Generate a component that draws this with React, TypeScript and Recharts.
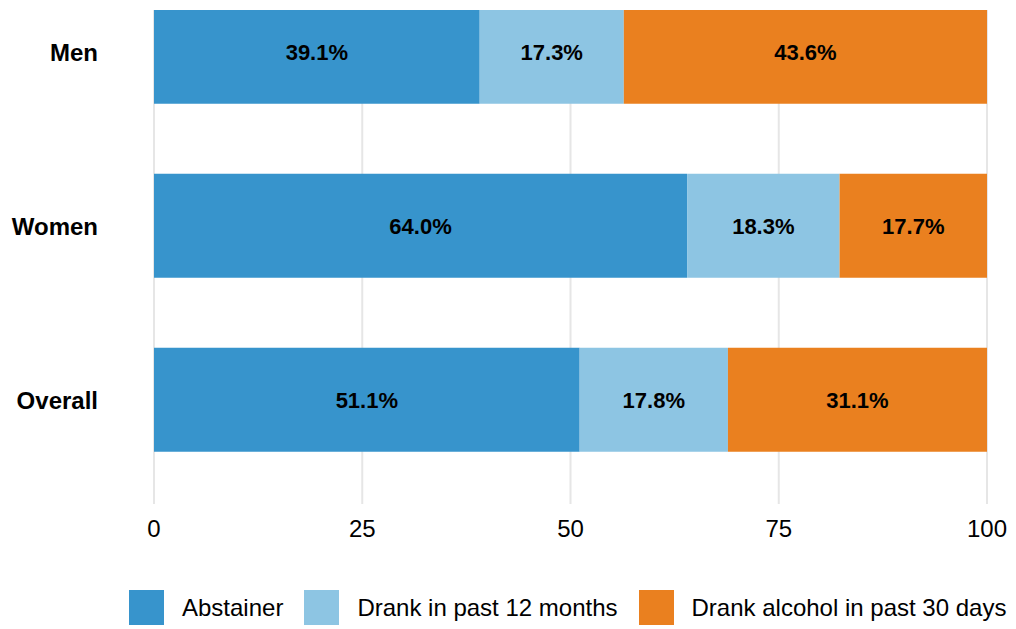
import React from "react";
import {
  BarChart,
  Bar,
  XAxis,
  YAxis,
  CartesianGrid,
  LabelList,
  Legend,
} from "recharts";

const categories = ["Men", "Women", "Overall"];
const abstainer = [39.1, 64.0, 51.1];
const past12Months = [17.3, 18.3, 17.8];
const past30Days = [43.6, 17.7, 31.1];
const xTicks = [0, 25, 50, 75, 100];

const seriesInfo = [
  { key: "abstainer", name: "Abstainer", color: "#3794cc" },
  { key: "past12", name: "Drank in past 12 months", color: "#8dc5e3" },
  { key: "past30", name: "Drank alcohol in past 30 days", color: "#ea801f" },
];

const data = categories.map((cat, i) => ({
  category: cat,
  abstainer: abstainer[i],
  past12: past12Months[i],
  past30: past30Days[i],
}));

const FONT = "'Liberation Sans', Arial, Helvetica, sans-serif";

const fmt = (v) => `${Number(v).toFixed(1)}%`;

const renderLegend = () => (
  <div
    style={{
      display: "flex",
      alignItems: "center",
      height: 35,
      whiteSpace: "nowrap",
      width: 880,
    }}
  >
    {seriesInfo.map((s, i) => (
      <div
        key={s.key}
        style={{
          display: "flex",
          alignItems: "center",
          flexShrink: 0,
          marginRight: i < seriesInfo.length - 1 ? 21 : 0,
        }}
      >
        <div
          style={{
            width: 35,
            height: 35,
            background: s.color,
            marginRight: 18,
            flexShrink: 0,
          }}
        />
        <span
          style={{
            fontSize: 24,
            color: "#000",
            fontFamily: FONT,
            whiteSpace: "nowrap",
          }}
        >
          {s.name}
        </span>
      </div>
    ))}
  </div>
);

export default function App() {
  return (
    <div style={{ paddingTop: 2, fontFamily: FONT }}>
      <BarChart
        width={1008}
        height={619}
        data={data}
        layout="vertical"
        barCategoryGap="20%"
        margin={{ top: 0, right: 29, bottom: 50, left: 0 }}
      >
        <CartesianGrid
          horizontal={false}
          stroke="#e6e6e6"
          strokeWidth={2}
        />
        <XAxis
          type="number"
          domain={[0, 100]}
          ticks={xTicks}
          axisLine={false}
          tickLine={false}
          tickSize={6}
          tickMargin={10}
          height={40}
          tick={{ fontSize: 24, fill: "#000", fontFamily: FONT }}
        />
        <YAxis
          type="category"
          dataKey="category"
          width={146}
          axisLine={false}
          tickLine={false}
          tickSize={6}
          tickMargin={50}
          padding={{ top: -45, bottom: 17 }}
          tick={{ fontSize: 24, fontWeight: "bold", fill: "#000", fontFamily: FONT }}
        />
        <Legend
          content={renderLegend}
          wrapperStyle={{ top: 580, bottom: "auto", left: 121, width: 880 }}
        />
        {seriesInfo.map((s) => (
          <Bar
            key={s.key}
            dataKey={s.key}
            name={s.name}
            stackId="a"
            fill={s.color}
            isAnimationActive={false}
          >
            <LabelList
              dataKey={s.key}
              position="center"
              formatter={fmt}
              fill="#000"
              style={{ fontSize: 22, fontWeight: "bold", fontFamily: FONT }}
            />
          </Bar>
        ))}
      </BarChart>
    </div>
  );
}
